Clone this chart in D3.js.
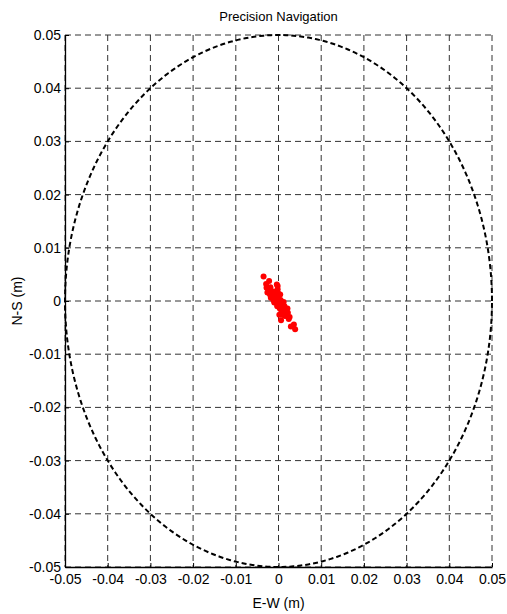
<!DOCTYPE html>
<html>
<head>
<meta charset="utf-8">
<script src="https://cdn.jsdelivr.net/npm/d3@7"></script>
<style>
  body { margin: 0; background: #fff; }
  text { font-family: "Liberation Sans", Arial, sans-serif; fill: #000; }
</style>
</head>
<body>
<svg id="chart" width="507" height="614"></svg>
<script>
// tick values (m)
var xTicks = [-0.05, -0.04, -0.03, -0.02, -0.01, 0, 0.01, 0.02, 0.03, 0.04, 0.05];
var yTicks = [-0.05, -0.04, -0.03, -0.02, -0.01, 0, 0.01, 0.02, 0.03, 0.04, 0.05];
var circleRadius = 0.05;

// position fixes (units 1e-3 m)
var fixE = [-3.5, -2.2, -2.8, -2.3, -0.4, -0.2, -1.4, -0.6, 0.3, -1.0, 0.8, -0.1, 1.6, 1.1, 2.0, 0.6, 2.4, 3.6, 3.9, 2.9,
            -2.6, -1.9, -1.8, -0.9, -0.5, 0.0, 0.5, 1.0, 1.4, -1.2, -0.7, 0.3, 1.0, 1.8, 2.2, -0.2, 0.6, 1.3, -1.6, -2.9,
            0.2, -0.3, 0.9, 1.5, 2.6, 2.1, -1.2, 0.0, 0.7, -0.8, -0.3, 0.4, 1.2, -2.0];
var fixN = [4.6, 3.75, 2.5, 1.9, 3.1, 2.2, 1.25, 0.6, 0.0, -0.3, -0.9, 1.5, -1.6, -2.2, -2.8, -3.6, -3.4, -4.4, -5.3, -4.8,
            1.6, 2.6, 0.6, 1.0, -0.2, 0.8, 0.2, -0.4, -1.0, 0.2, 1.8, -1.4, -1.8, -2.0, -2.2, 2.8, -0.6, -1.2, 1.9, 3.2,
            -2.6, -1.0, -2.6, -2.8, -3.0, -1.4, 0.9, 0.3, -2.0, 0.5, -0.6, 1.2, -0.2, 1.2];

var margin = {top: 35, right: 15, bottom: 47, left: 65};
var width = 507 - margin.left - margin.right;
var height = 614 - margin.top - margin.bottom;

var svg = d3.select("#chart");
var g = svg.append("g")
  .attr("transform", "translate(" + margin.left + "," + margin.top + ")");

var x = d3.scaleLinear().domain([-0.05, 0.05]).range([0, width]);
var y = d3.scaleLinear().domain([-0.05, 0.05]).range([height, 0]);

// grid
g.append("g").selectAll("line")
  .data(xTicks)
  .enter().append("line")
    .attr("x1", function(d) { return x(d); })
    .attr("x2", function(d) { return x(d); })
    .attr("y1", 0).attr("y2", height)
    .attr("stroke", "#333").attr("stroke-width", 1)
    .attr("stroke-dasharray", "6,4");

g.append("g").selectAll("line")
  .data(yTicks)
  .enter().append("line")
    .attr("y1", function(d) { return y(d); })
    .attr("y2", function(d) { return y(d); })
    .attr("x1", 0).attr("x2", width)
    .attr("stroke", "#333").attr("stroke-width", 1)
    .attr("stroke-dasharray", "6,4");

// 5 cm circle
var circ = d3.range(0, 361, 1).map(function(a) {
  var t = a * Math.PI / 180;
  return [circleRadius * Math.cos(t), circleRadius * Math.sin(t)];
});
g.append("path")
  .datum(circ)
  .attr("d", d3.line().x(function(d) { return x(d[0]); }).y(function(d) { return y(d[1]); }))
  .attr("fill", "none")
  .attr("stroke", "#000")
  .attr("stroke-width", 2)
  .attr("stroke-dasharray", "5,3");

// fixes
g.append("g").selectAll("circle")
  .data(d3.range(fixE.length))
  .enter().append("circle")
    .attr("cx", function(i) { return x(fixE[i] / 1000); })
    .attr("cy", function(i) { return y(fixN[i] / 1000); })
    .attr("r", 3)
    .attr("fill", "#f00");

// axes
var fmt = function(d) { return String(+d.toFixed(2)); };
var xAxis = g.append("g")
  .attr("transform", "translate(0," + height + ")")
  .call(d3.axisBottom(x).tickValues(xTicks).tickFormat(fmt).tickSizeInner(-4).tickSizeOuter(0).tickPadding(7));
var yAxis = g.append("g")
  .call(d3.axisLeft(y).tickValues(yTicks).tickFormat(fmt).tickSizeInner(-4).tickSizeOuter(0).tickPadding(4));

[xAxis, yAxis].forEach(function(a) {
  a.select(".domain").attr("stroke", "#000").attr("stroke-width", 1.3);
  a.selectAll(".tick line").attr("stroke", "#000");
  a.selectAll("text").style("font-size", "14px").attr("fill", "#000");
});

// labels
svg.append("text")
  .attr("x", margin.left + width / 2).attr("y", 21)
  .attr("text-anchor", "middle")
  .style("font-size", "13px")
  .text("Precision Navigation");

svg.append("text")
  .attr("x", margin.left + width / 2).attr("y", 608)
  .attr("text-anchor", "middle")
  .style("font-size", "14px")
  .text("E-W (m)");

svg.append("text")
  .attr("transform", "translate(22," + (margin.top + height / 2) + ") rotate(-90)")
  .attr("text-anchor", "middle")
  .style("font-size", "14px")
  .text("N-S (m)");
</script>
</body>
</html>
